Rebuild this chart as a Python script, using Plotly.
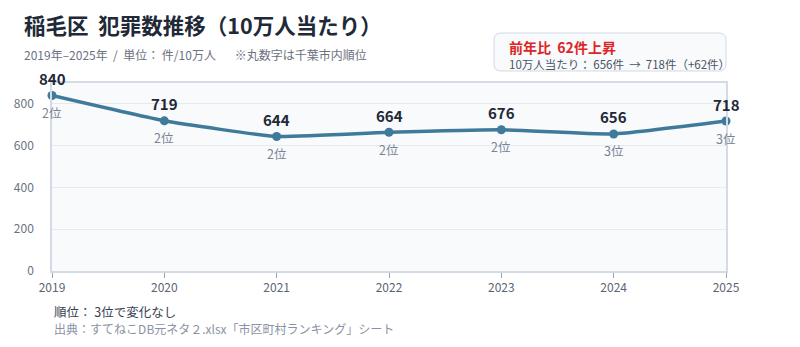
import plotly.graph_objects as go

years = [2019, 2020, 2021, 2022, 2023, 2024, 2025]
values = [840, 719, 644, 664, 676, 656, 718]
ranks = ["2位", "2位", "2位", "2位", "2位", "3位", "3位"]
y_ticks = [0, 200, 400, 600, 800]

FONT = "Noto Sans CJK JP"
LINE = "#3f7a9b"
W, H = 800, 347
L, R, T, B = 52, 74, 83, 76
PW, PH = W - L - R, H - T - B
SP = "&nbsp;"


def px(x):
    return (x - L) / PW


def py(y):
    return (H - B - y) / PH


def rounded_rect(x0, y0, x1, y1, r):
    pts = [
        f"M {px(x0 + r)} {py(y0)}",
        f"L {px(x1 - r)} {py(y0)}",
        f"Q {px(x1)} {py(y0)} {px(x1)} {py(y0 + r)}",
        f"L {px(x1)} {py(y1 - r)}",
        f"Q {px(x1)} {py(y1)} {px(x1 - r)} {py(y1)}",
        f"L {px(x0 + r)} {py(y1)}",
        f"Q {px(x0)} {py(y1)} {px(x0)} {py(y1 - r)}",
        f"L {px(x0)} {py(y0 + r)}",
        f"Q {px(x0)} {py(y0)} {px(x0 + r)} {py(y0)}",
        "Z",
    ]
    return " ".join(pts)


fig = go.Figure()
fig.add_trace(go.Scatter(
    x=years, y=values, mode="lines+markers",
    line=dict(color=LINE, width=3.5, shape="spline", smoothing=0.4),
    marker=dict(color=LINE, size=9),
    hoverinfo="skip", showlegend=False, cliponaxis=False,
))

ann = []
for x, v, r in zip(years, values, ranks):
    ann.append(dict(x=x, y=v, xref="x", yref="y", text=f"<b>{v}</b>", showarrow=False,
                    yshift=17, font=dict(family=FONT, size=15, color="#1f2937")))
    ann.append(dict(x=x, y=v, xref="x", yref="y", text=r, showarrow=False,
                    yshift=-17, font=dict(family=FONT, size=12.5, color="#7b8494")))

ann += [
    dict(x=px(22), y=py(24), xref="paper", yref="paper", xanchor="left", yanchor="middle",
         text=f"<b>稲毛区{SP}{SP}犯罪数推移（10万人当たり）</b>", showarrow=False,
         font=dict(family=FONT, size=21.5, color="#1f2937")),
    dict(x=px(22), y=py(55), xref="paper", yref="paper", xanchor="left", yanchor="middle",
         text=f"2019年–2025年{SP}{SP}/{SP}{SP}単位：{SP}件/10万人{SP * 7}※丸数字は千葉市内順位", showarrow=False,
         font=dict(family=FONT, size=12, color="#6b7280")),
    dict(x=px(507), y=py(47), xref="paper", yref="paper", xanchor="left", yanchor="middle",
         text=f"<b>前年比{SP}{SP}62件上昇</b>", showarrow=False,
         font=dict(family=FONT, size=14, color="#dc2626")),
    dict(x=px(507), y=py(64), xref="paper", yref="paper", xanchor="left", yanchor="middle",
         text=f"10万人当たり：{SP}656件{SP}{SP}→{SP}{SP}718件（+62件）", showarrow=False,
         font=dict(family=FONT, size=11.5, color="#4b5563")),
    dict(x=px(52), y=py(311), xref="paper", yref="paper", xanchor="left", yanchor="middle",
         text=f"順位：{SP}3位で変化なし", showarrow=False,
         font=dict(family=FONT, size=12.5, color="#374151")),
    dict(x=px(52), y=py(328), xref="paper", yref="paper", xanchor="left", yanchor="middle",
         text="出典：すてねこDB元ネタ２.xlsx「市区町村ランキング」シート", showarrow=False,
         font=dict(family=FONT, size=12, color="#8a93a3")),
]

shapes = [
    dict(type="path", xref="paper", yref="paper", path=rounded_rect(494, 33, 726, 71, 7),
         line=dict(color="#d3dbe6", width=1), fillcolor="#f8fafc", layer="below"),
]

fig.update_layout(
    width=W, height=H,
    margin=dict(l=L, r=R, t=T, b=B),
    paper_bgcolor="white", plot_bgcolor="#f8fafc",
    font=dict(family=FONT, color="#6b7280"),
    annotations=ann, shapes=shapes,
    xaxis=dict(range=[2019, 2025], tickvals=years, ticktext=[str(y) for y in years],
               showgrid=False, zeroline=False, showline=True, linecolor="#d3dbe6", linewidth=1.5,
               mirror=True, ticks="outside", ticklen=5, tickcolor="#9aa3b2",
               tickfont=dict(family=FONT, size=12, color="#5b6472")),
    yaxis=dict(range=[0, 900], tickvals=y_ticks, showgrid=True, gridcolor="#e6ebf2",
               zeroline=False, showline=True, linecolor="#d3dbe6", linewidth=1.5, mirror=True,
               ticks="", ticklabelstandoff=14,
               tickfont=dict(family=FONT, size=12, color="#6b7280")),
)

fig.write_html("out.html")
